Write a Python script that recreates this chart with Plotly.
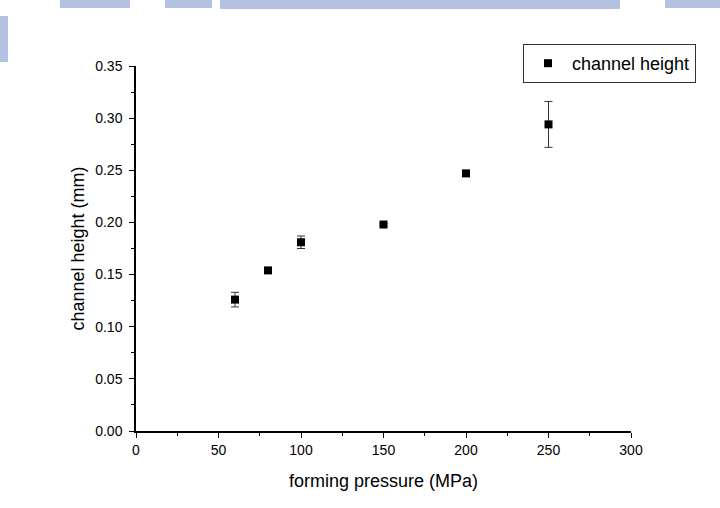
import plotly.graph_objects as go

pressure = [60, 80, 100, 150, 200, 250]
height = [0.126, 0.154, 0.181, 0.198, 0.247, 0.294]
height_err = [0.007, 0.002, 0.006, 0.001, 0.001, 0.022]

series_name = "channel height"
x_title = "forming pressure (MPa)"
y_title = "channel height (mm)"

fig = go.Figure()
fig.add_trace(go.Scatter(
    x=pressure, y=height, mode="markers", name=series_name,
    marker=dict(symbol="square", size=8, color="black"),
    error_y=dict(type="data", array=height_err, visible=True,
                 color="#333333", thickness=1, width=4),
    showlegend=True,
))

font_family = "Liberation Sans, Arial, sans-serif"

# faint scan artifacts (decoration)
band = "#b3c2e0"
def px_rect(x0, x1, y0, y1):
    return dict(type="rect", xref="paper", yref="paper",
                x0=(x0-136)/495, x1=(x1-136)/495,
                y0=(431-y0)/365, y1=(431-y1)/365,
                fillcolor=band, line_width=0, layer="below")

shapes = [
    px_rect(220, 620, 0, 9),
    px_rect(60, 130, 0, 8),
    px_rect(165, 212, 0, 8),
    px_rect(665, 720, 0, 8),
    px_rect(0, 8, 16, 62),
]

fig.update_layout(
    width=720, height=508,
    margin=dict(l=136, r=89, t=66, b=77, autoexpand=False),
    paper_bgcolor="white", plot_bgcolor="white",
    font=dict(family=font_family, color="black", size=14),
    shapes=shapes,
    legend=dict(
        x=(523-136)/495, y=(431-44)/365, xanchor="left", yanchor="top",
        bordercolor="#333333", borderwidth=1, bgcolor="white",
        font=dict(size=18, family=font_family),
        itemwidth=38,
    ),
    xaxis=dict(
        range=[0, 300], dtick=50, tick0=0, showgrid=False, zeroline=False,
        showline=True, linecolor="black", linewidth=1.5,
        ticks="outside", ticklen=5, tickwidth=1.2, tickcolor="black",
        minor=dict(dtick=25, ticks="outside", ticklen=3, tickcolor="black", tickwidth=1),
        tickfont=dict(size=14),
        title=dict(text=x_title, font=dict(size=18), standoff=18),
        automargin=False,
    ),
    yaxis=dict(
        range=[0, 0.35], dtick=0.05, tick0=0, tickformat=".2f", showgrid=False,
        zeroline=False, showline=True, linecolor="black", linewidth=1.5,
        ticks="outside", ticklen=5, tickwidth=1.2, tickcolor="black",
        minor=dict(dtick=0.025, ticks="outside", ticklen=3, tickcolor="black", tickwidth=1),
        tickfont=dict(size=14), ticklabelstandoff=4,
        title=dict(text=y_title, font=dict(size=18), standoff=6),
        automargin=False,
    ),
)

fig.write_html("out.html")
